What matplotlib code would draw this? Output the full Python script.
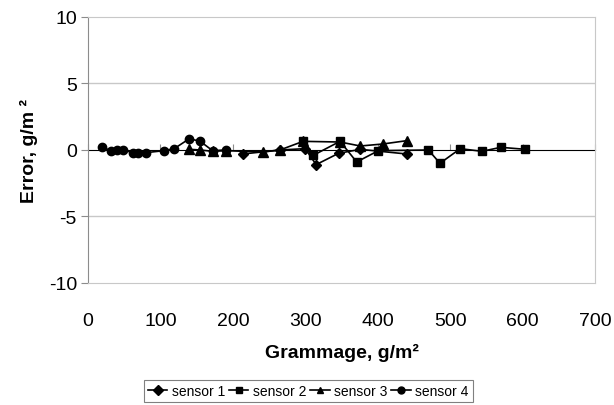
import matplotlib.pyplot as plt

plt.rcParams['font.family'] = ['Liberation Sans', 'DejaVu Sans']
plt.rcParams['axes.unicode_minus'] = False

# grammage (g/m2) and error (g/m2) per sensor
s1_x = [214, 265, 300, 315, 346, 376, 440]
s1_y = [-0.3, 0.0, 0.1, -1.1, -0.25, 0.05, -0.3]

s2_x = [297, 311, 348, 371, 401, 470, 486, 514, 544, 570, 604]
s2_y = [0.7, -0.4, 0.65, -0.9, -0.05, 0.0, -1.0, 0.1, -0.1, 0.2, 0.05]

s3_x = [140, 155, 172, 190, 242, 265, 297, 348, 376, 407, 440]
s3_y = [0.05, 0.0, -0.1, -0.05, -0.15, 0.0, 0.65, 0.6, 0.3, 0.45, 0.7]

s4_x = [20, 32, 40, 49, 62, 69, 80, 105, 119, 140, 155, 172, 190]
s4_y = [0.25, -0.1, 0.0, 0.0, -0.2, -0.2, -0.2, -0.05, 0.1, 0.85, 0.65, -0.05, 0.0]

series = [
    ('sensor 1', s1_x, s1_y, 'D', 5),
    ('sensor 2', s2_x, s2_y, 's', 6),
    ('sensor 3', s3_x, s3_y, '^', 6.5),
    ('sensor 4', s4_x, s4_y, 'o', 6),
]

fig = plt.figure(figsize=(6.14, 4.06), dpi=100)
ax = fig.add_axes([0.1433, 0.3005, 0.8257, 0.6552])

grid_col = '#c8c8c8'
axis_col = '#8c8c8c'

for y in [-5, 5]:
    ax.axhline(y, color=grid_col, lw=1, zorder=1)

for label, xs, ys, mk, ms in series:
    ax.plot(xs, ys, color='black', lw=1.2, marker=mk, markersize=ms,
            label=label, zorder=3)

ax.set_xlim(0, 700)
ax.set_ylim(-10, 10)
ax.set_xticks(range(0, 701, 100))
ax.set_yticks([-10, -5, 0, 5, 10])

for side in ['top', 'right', 'bottom']:
    ax.spines[side].set_color(grid_col)
ax.spines['left'].set_color(axis_col)

ax.tick_params(axis='x', length=0, pad=21, labelsize=14)
ax.tick_params(axis='y', length=5, color=axis_col, direction='out', pad=3, labelsize=14)

# horizontal axis crosses at zero
sec = ax.secondary_xaxis(0.5)
sec.set_xticks(range(0, 701, 100))
sec.set_xticklabels([])
sec.tick_params(length=4, color=axis_col, direction='out')
sec.spines['bottom'].set_color(axis_col)

ax.set_xlabel('Grammage, g/m²', fontsize=14, fontweight='bold', labelpad=10)
ax.set_ylabel('Error, g/m ²', fontsize=14, fontweight='bold', labelpad=8)

leg = fig.legend(loc='center', bbox_to_anchor=(0.502, 0.034), ncol=4,
                 fontsize=10, handlelength=1.4, handletextpad=0.3,
                 columnspacing=0.3, borderpad=0.3, fancybox=False,
                 edgecolor='#808080', framealpha=1)
leg.get_frame().set_linewidth(0.8)
for h in leg.legend_handles:
    h.set_markersize(5)

fig.savefig('out.png', dpi=100)
